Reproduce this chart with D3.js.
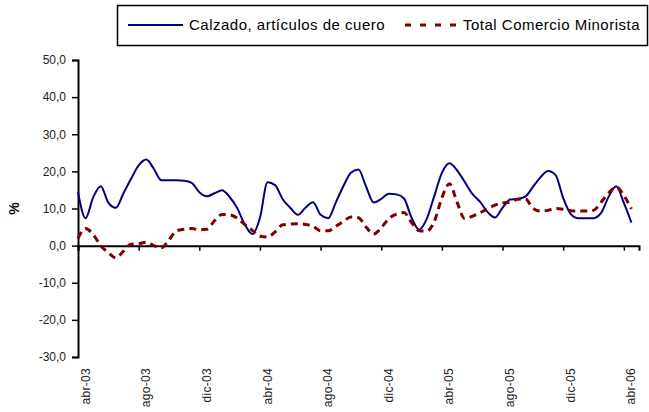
<!DOCTYPE html>
<html>
<head>
<meta charset="utf-8">
<script src="https://cdn.jsdelivr.net/npm/d3@7"></script>
<style>
  body { margin: 0; background: #fff; }
  svg { font-family: "Liberation Sans", Arial, sans-serif; }
</style>
</head>
<body>
<svg id="chart" width="649" height="412"></svg>
<script>
// series sampled twice a month, starting abr-03
var calzado = [14.4, 7.4, 13.0, 16.0, 11.6, 10.2, 14.1, 18.0, 21.6, 23.2,
    20.7, 17.6, 17.6, 17.6, 17.5, 16.9, 14.4, 13.3, 14.1, 14.9,
    13.1, 10.1, 5.7, 3.1, 7.5, 17.1, 16.3, 12.5, 10.2, 8.3,
    10.2, 11.7, 8.3, 7.4, 11.6, 16.0, 19.6, 20.5, 15.9, 11.6,
    12.6, 14.0, 13.8, 12.7, 7.5, 4.3, 7.2, 13.4, 19.6, 22.2,
    20.3, 17.2, 14.0, 11.9, 9.1, 7.6, 10.2, 12.4, 12.6, 13.2,
    15.8, 18.4, 20.1, 19.0, 12.8, 8.5, 7.4, 7.4, 7.4, 8.8,
    13.2, 16.0, 11.5, 6.2];
var comercio = [2.0, 4.6, 3.0, 0.0, -1.9, -3.3, -1.5, 0.4, 0.5, 0.9,
    0.0, -0.6, 1.5, 4.0, 4.4, 4.6, 4.3, 4.4, 6.7, 8.4,
    8.3, 7.4, 5.7, 4.1, 2.5, 2.3, 3.7, 5.6, 5.8, 5.9,
    5.7, 5.2, 4.0, 4.0, 5.2, 6.5, 7.7, 7.5, 5.0, 3.1,
    4.8, 7.3, 8.5, 8.9, 6.2, 4.0, 3.9, 6.5, 12.9, 16.7,
    11.7, 7.3, 7.9, 8.8, 9.9, 10.9, 11.5, 11.7, 12.5, 12.6,
    10.1, 9.3, 9.5, 10.0, 9.8, 9.4, 9.3, 9.3, 9.5, 11.7,
    14.2, 15.8, 13.5, 9.9];
var monthLabels = ["abr-03", "ago-03", "dic-03", "abr-04", "ago-04",
    "dic-04", "abr-05", "ago-05", "dic-05", "abr-06"];
var yTicks = [-30, -20, -10, 0, 10, 20, 30, 40, 50];
var seriesNames = ["Calzado, artículos de cuero", "Total Comercio Minorista"];

var svg = d3.select("#chart");
var margin = {left: 78, right: 639, top: 60, bottom: 357};

var x = d3.scaleLinear().domain([0, 37]).range([margin.left, margin.right]);
var y = d3.scaleLinear().domain([-30, 50]).range([margin.bottom, margin.top]);
var fmt = function (d) { return d3.format(".1f")(d).replace(".", ",").replace("−", "-"); };

// y axis
var yAxis = d3.axisLeft(y).tickValues(yTicks).tickSize(6).tickPadding(6).tickFormat(fmt);
var gy = svg.append("g").attr("transform", "translate(" + margin.left + ",0)").call(yAxis);
gy.select(".domain").attr("stroke", "#000").attr("stroke-width", 2);
gy.selectAll(".tick line").attr("stroke", "#000").attr("stroke-width", 1.5);
gy.selectAll("text").attr("font-size", 12).attr("fill", "#222").attr("font-family", "Liberation Sans, Arial, sans-serif");

svg.append("text")
    .attr("transform", "translate(19," + y(10) + ") rotate(-90)")
    .attr("text-anchor", "middle")
    .attr("font-size", 14)
    .attr("font-weight", "bold")
    .text("%");

// x axis at zero line
var xAxis = d3.axisBottom(x)
    .tickValues(d3.range(0, 37, 4))
    .tickSize(5)
    .tickFormat("");
var gx = svg.append("g").attr("transform", "translate(0," + y(0) + ")").call(xAxis);
gx.select(".domain").attr("stroke", "#000").attr("stroke-width", 2);
gx.selectAll(".tick line").attr("stroke", "#000").attr("stroke-width", 1.5);

svg.append("g").selectAll("text")
    .data(monthLabels)
    .join("text")
    .attr("transform", function (d, i) { return "translate(" + (x(i * 4 + 0.5) + 4) + ",368) rotate(-90)"; })
    .attr("text-anchor", "end")
    .attr("font-size", 12)
    .attr("letter-spacing", 0.3)
    .attr("fill", "#222")
    .text(function (d) { return d; });

// lines
var line = d3.line()
    .x(function (d, i) { return x(i / 2); })
    .y(function (d) { return y(d); })
    .curve(d3.curveMonotoneX);

svg.append("path")
    .datum(calzado)
    .attr("d", line)
    .attr("fill", "none")
    .attr("stroke", "#000080")
    .attr("stroke-width", 2);

svg.append("path")
    .datum(comercio)
    .attr("d", line)
    .attr("fill", "none")
    .attr("stroke", "#800000")
    .attr("stroke-width", 3)
    .attr("stroke-dasharray", "7,5");

// legend
var lg = svg.append("g");
lg.append("rect")
    .attr("x", 117.5).attr("y", 5.5)
    .attr("width", 530).attr("height", 40)
    .attr("fill", "#fff").attr("stroke", "#000").attr("stroke-width", 1.5);
lg.append("line")
    .attr("x1", 128).attr("x2", 183).attr("y1", 25).attr("y2", 25)
    .attr("stroke", "#000080").attr("stroke-width", 2);
lg.append("text")
    .attr("x", 189).attr("y", 30)
    .attr("font-size", 15)
    .attr("letter-spacing", 0.5)
    .text(seriesNames[0]);
lg.append("line")
    .attr("x1", 405).attr("x2", 462).attr("y1", 25).attr("y2", 25)
    .attr("stroke", "#800000").attr("stroke-width", 3)
    .attr("stroke-dasharray", "6,9");
lg.append("text")
    .attr("x", 463).attr("y", 30)
    .attr("font-size", 15)
    .attr("letter-spacing", 0.5)
    .text(seriesNames[1]);
</script>
</body>
</html>
